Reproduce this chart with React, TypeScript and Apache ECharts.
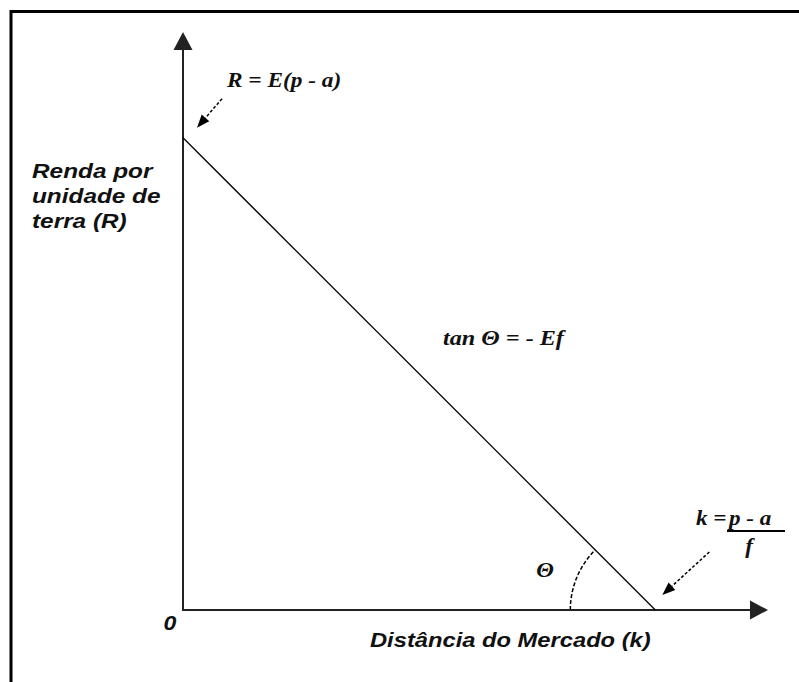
import React, { useEffect, useRef } from "react";
import * as echarts from "echarts";

// Axis extents (abstract units)
const xRange = [0, 100];
const yRange = [0, 100];
// Intercepts of the bid-rent line
const rentIntercept = 83; // R = E(p - a) at k = 0
const distanceIntercept = 82; // k = (p - a)/f at R = 0
const rentLineX = [0, distanceIntercept];
const rentLineY = [rentIntercept, 0];

// Texts
const yTitleLines = ["Renda por", "unidade de", "terra (R)"];
const xTitle = "Distância do Mercado (k)";
const originLabel = "0";
const rentFormula = "R = E(p - a)";
const slopeFormula = "tan Θ = - Ef";
const angleLabel = "Θ";
const kLeft = "k =";
const kNumerator = "p - a";
const kDenominator = "f";

const SANS = "'Liberation Sans', Arial, sans-serif";
const SERIF = "'Liberation Serif', 'Times New Roman', serif";

function dashedArrow(x1: number, y1: number, x2: number, y2: number) {
  const dx = x2 - x1;
  const dy = y2 - y1;
  const L = Math.hypot(dx, dy);
  const ux = dx / L;
  const uy = dy / L;
  const hl = 13;
  const hw = 5;
  const bx = x2 - ux * hl;
  const by = y2 - uy * hl;
  return [
    {
      type: "line",
      shape: { x1, y1, x2: bx, y2: by },
      style: { stroke: "#000", lineWidth: 1.5, lineDash: [3, 2] },
    },
    {
      type: "polygon",
      shape: {
        points: [
          [x2, y2],
          [bx - uy * hw, by + ux * hw],
          [bx + uy * hw, by - ux * hw],
        ],
      },
      style: { fill: "#000" },
    },
  ];
}

function txt(
  text: string,
  x: number,
  y: number,
  family: string,
  size: number,
  scaleX: number,
  align = "left",
  extra: any = {}
) {
  return {
    type: "text",
    x,
    y,
    scaleX,
    style: {
      text,
      fontFamily: family,
      fontSize: size,
      fontWeight: "bold",
      fontStyle: "italic",
      fill: "#111",
      align,
      verticalAlign: "middle",
      ...extra,
    },
  };
}

export default function App() {
  const ref = useRef<HTMLDivElement>(null);
  useEffect(() => {
    if (!ref.current) return;
    const chart = echarts.init(ref.current, null, { renderer: "svg" });
    const axisCommon = {
      type: "value",
      axisLine: {
        show: true,
        onZero: true,
        symbol: ["none", "triangle"],
        symbolSize: [19, 18],
        lineStyle: { color: "#222", width: 2 },
      },
      axisTick: { show: false },
      axisLabel: { show: false },
      splitLine: { show: false },
    };
    chart.setOption({
      animation: false,
      backgroundColor: "#fff",
      grid: { left: 183, right: 40, top: 41, bottom: 72 },
      xAxis: { ...axisCommon, min: xRange[0], max: xRange[1] },
      yAxis: { ...axisCommon, min: yRange[0], max: yRange[1] },
      series: [
        {
          type: "line",
          data: rentLineX.map((x, i) => [x, rentLineY[i]]),
          showSymbol: false,
          symbol: "none",
          lineStyle: { color: "#000", width: 1.3 },
          silent: true,
        },
      ],
    });

    const start = chart.convertToPixel({ gridIndex: 0 }, [rentLineX[0], rentLineY[0]]) as number[];
    const end = chart.convertToPixel({ gridIndex: 0 }, [rentLineX[1], rentLineY[1]]) as number[];

    const graphic: any[] = [
      {
        type: "rect",
        shape: { x: 11, y: 11.5, width: 1200, height: 1200 },
        style: { fill: "transparent", stroke: "#000", lineWidth: 3 },
      },
      txt(rentFormula, 227, 79.5, SERIF, 22, 1.06),
      ...dashedArrow(start[0] + 39, start[1] - 39, start[0] + 14, start[1] - 10),
      txt(yTitleLines.join("\n"), 32, 196, SANS, 21, 1.16, "left", { lineHeight: 25 }),
      txt(slopeFormula, 443, 337.5, SERIF, 22, 1.1),
      txt(angleLabel, 545, 570, SERIF, 22, 1.05, "center"),
      {
        type: "arc",
        shape: {
          cx: end[0],
          cy: end[1],
          r: 85,
          startAngle: Math.PI,
          endAngle: Math.PI * 1.25,
          clockwise: true,
        },
        style: { stroke: "#000", lineWidth: 1.5, lineDash: [4, 2], fill: null },
      },
      txt(kLeft, 696, 517.5, SERIF, 22, 1.05),
      txt(kNumerator, 729, 517.5, SERIF, 22, 1.05),
      {
        type: "line",
        shape: { x1: 727, y1: 531, x2: 785, y2: 531 },
        style: { stroke: "#000", lineWidth: 2 },
      },
      txt(kDenominator, 749, 546, SERIF, 22, 1.05, "center"),
      ...dashedArrow(end[0] + 54, end[1] - 58, end[0] + 7, end[1] - 15),
      txt(originLabel, 170, 623, SANS, 21, 1.1, "center"),
      txt(xTitle, 370, 640, SANS, 21, 1.13),
    ];
    chart.setOption({ graphic });

    return () => chart.dispose();
  }, []);
  return (
    <div
      ref={ref}
      style={{ position: "fixed", left: 0, top: 0, width: 799, height: 682, background: "#fff" }}
    />
  );
}
